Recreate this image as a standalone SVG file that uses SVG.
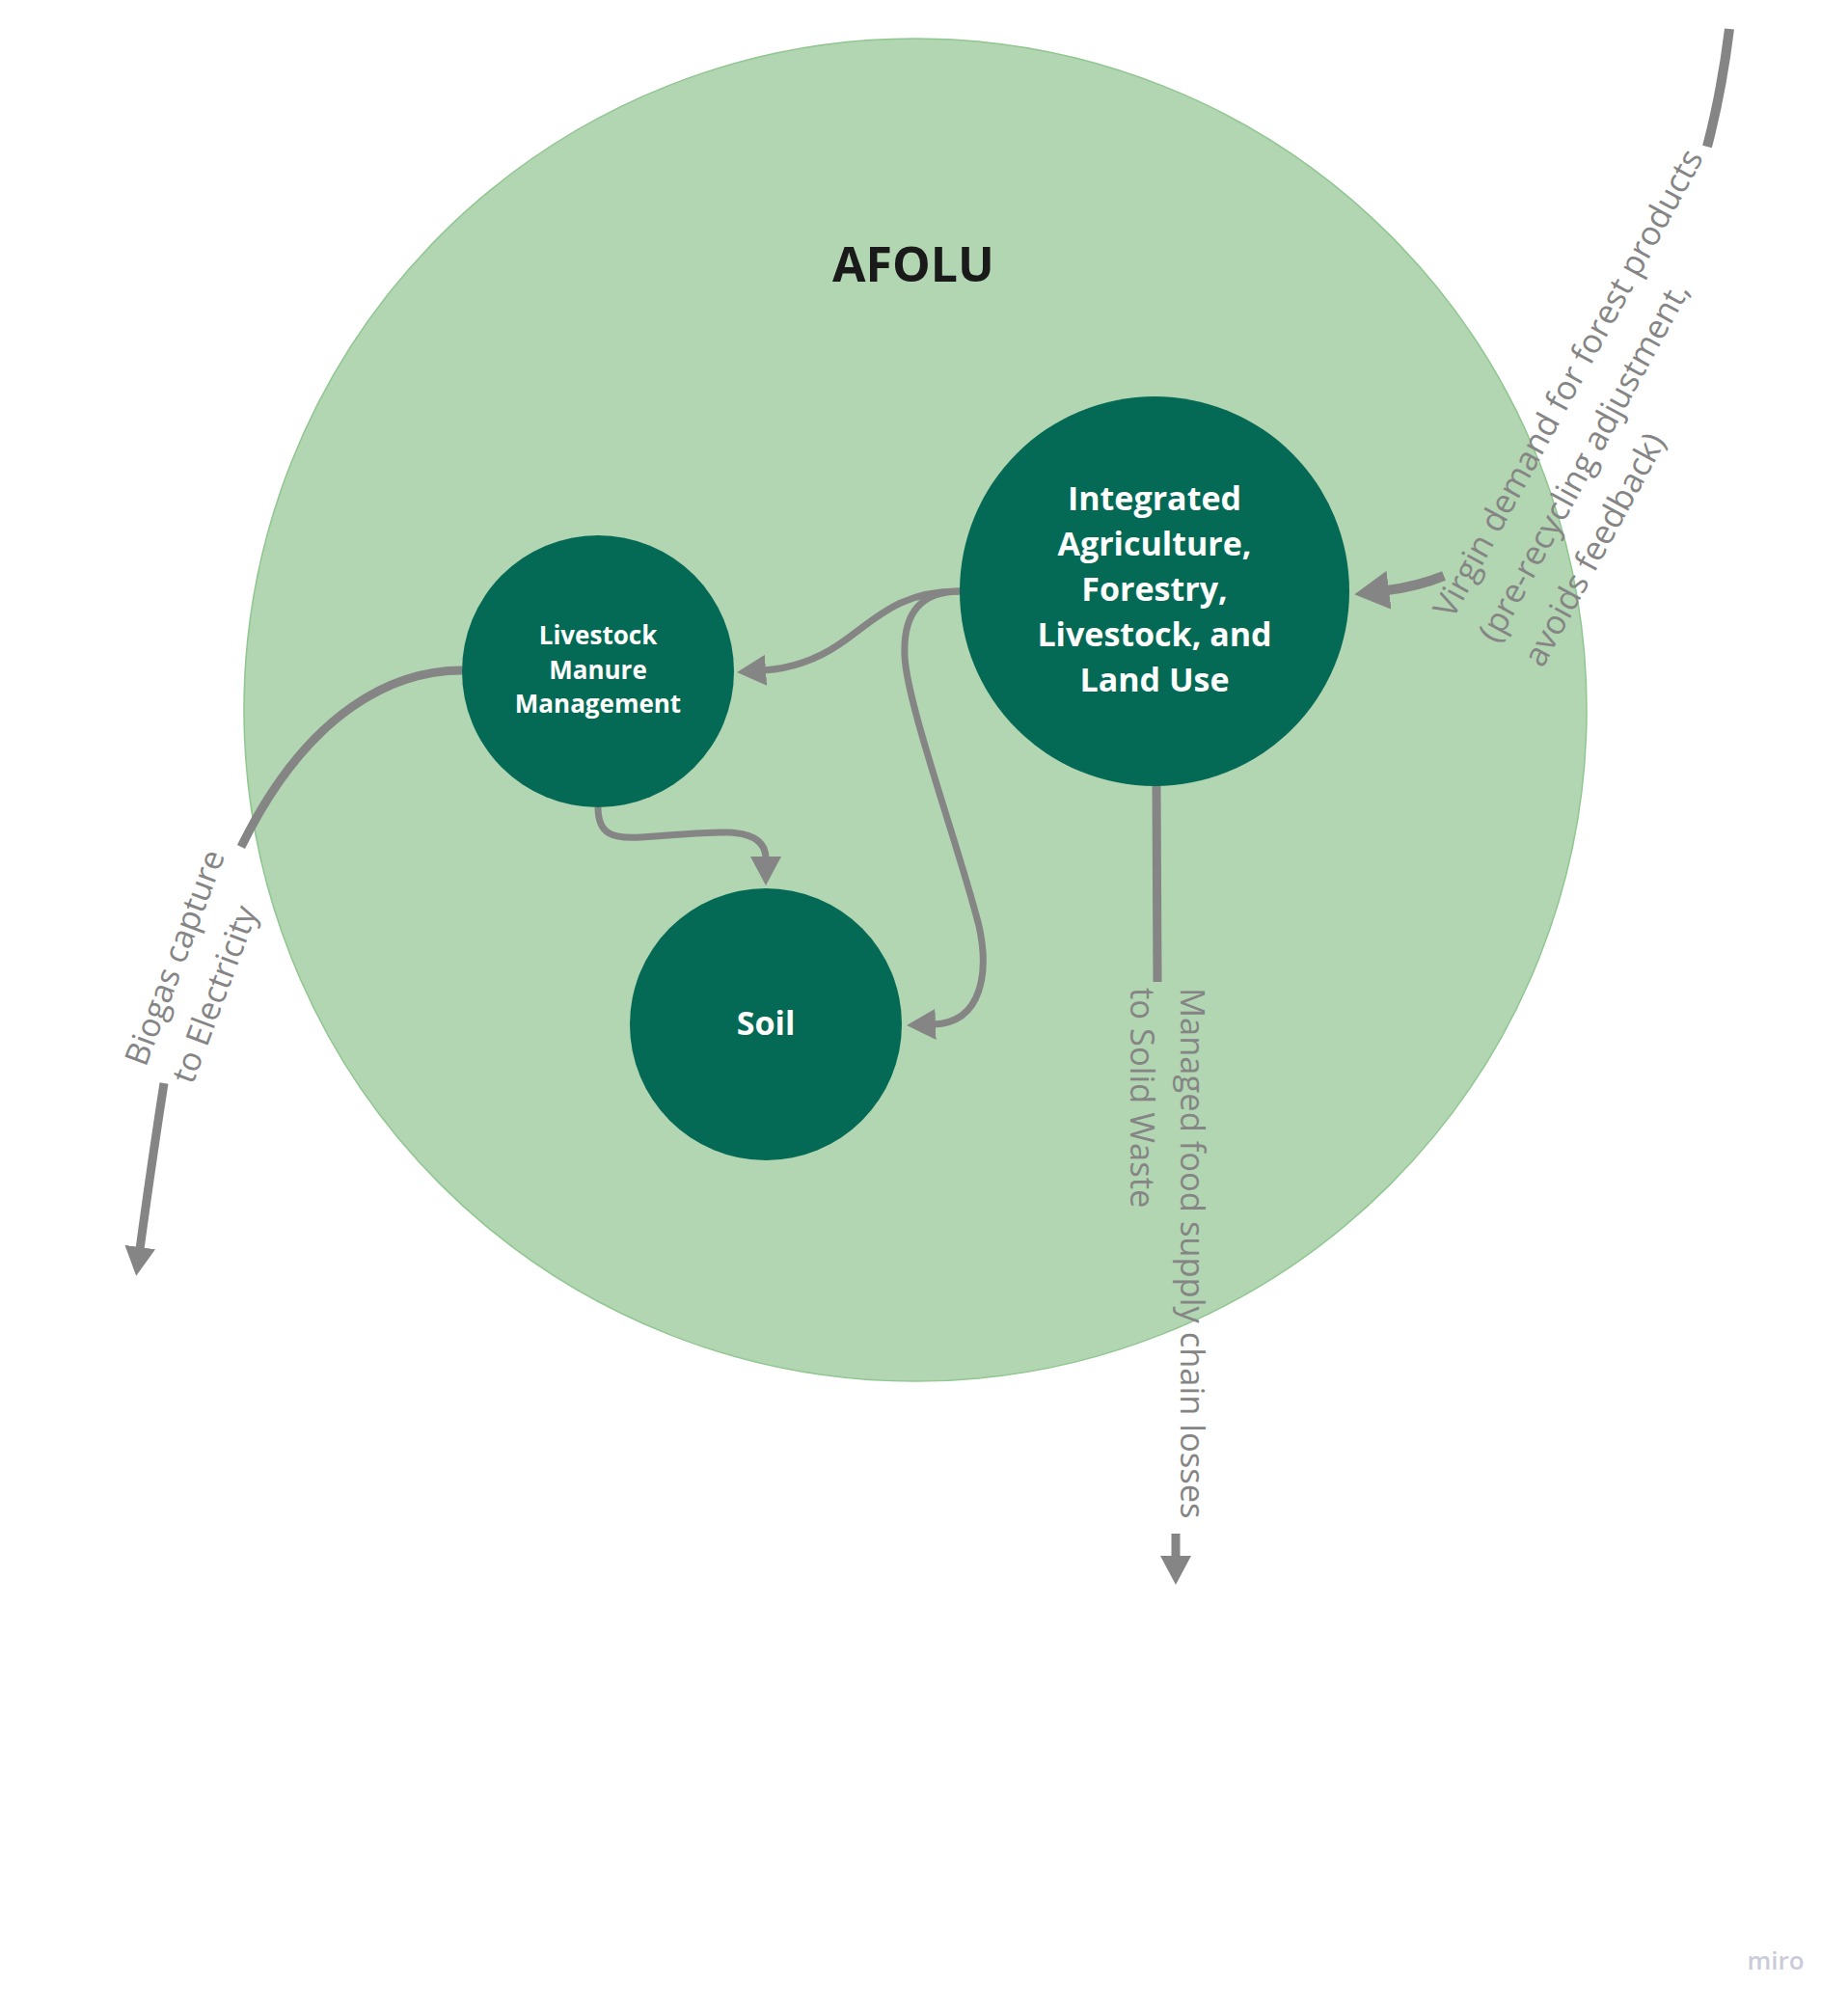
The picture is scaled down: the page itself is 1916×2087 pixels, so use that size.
<svg xmlns="http://www.w3.org/2000/svg" width="1916" height="2087" viewBox="0 0 1916 2087">
<defs>
<style>
.node{fill:#056a55}
.nlabel{font-family:"Open Sans","Noto Sans",sans-serif;font-weight:700;fill:#ffffff;text-anchor:middle}
.elabel{font-family:"Open Sans","Noto Sans",sans-serif;font-weight:400;fill:#858585;font-size:34px}
.conn{fill:none;stroke:#858585;stroke-width:7}
.ext{fill:none;stroke:#858585;stroke-width:9}
</style>
<marker id="ah" markerUnits="userSpaceOnUse" viewBox="0 0 30 32" refX="2" refY="16" markerWidth="30" markerHeight="32" orient="auto"><path d="M0,0 L30,16 L0,32 Z" fill="#858585"/></marker>
<marker id="ahL" markerUnits="userSpaceOnUse" viewBox="0 0 36 40" refX="2" refY="20" markerWidth="36" markerHeight="40" orient="auto"><path d="M0,0 L36,20 L0,40 Z" fill="#858585"/></marker>
</defs>
<rect width="1916" height="2087" fill="#ffffff"/>
<g id="afolu">
<circle cx="949" cy="736" r="696" fill="#b2d5b2" stroke="#90c690" stroke-width="1.5"/>
<text x="947" y="292" font-family="'Open Sans','Noto Sans',sans-serif" font-weight="700" font-size="50" fill="#1a1a1a" text-anchor="middle">AFOLU</text>
</g>
<g id="connectors">
<path class="conn" d="M996,613 C930,612 905,645 870,668 C845,685 820,693 792,695" marker-end="url(#ah)"/>
<path class="conn" d="M996,613 C955,613 936,635 938,680 C940,730 995,880 1015,960 C1025,1005 1020,1060 968,1062" marker-end="url(#ah)"/>
<path class="conn" d="M620,837 C620,865 635,870 665,868 C700,866 730,862 755,863 C780,864 794,872 794,890" marker-end="url(#ah)"/>
<path class="ext" d="M479,695 C410,695 320,735 250,878"/>
<path class="ext" d="M170,1123 Q158,1200 145,1295" marker-end="url(#ah)"/>
<path class="ext" d="M1199,814 L1200,1018"/>
<path class="ext" d="M1219,1590 L1219,1615" marker-end="url(#ah)"/>
<path class="ext" style="stroke-width:10" d="M1793,30 Q1785,95 1770,152"/>
<path class="ext" style="stroke-width:10" d="M1497,597 Q1470,608 1438,612" marker-end="url(#ahL)"/>
</g>
<g id="integrated">
<circle class="node" cx="1197" cy="613" r="202"/>
<text class="nlabel" font-size="34"><tspan x="1197" y="529">Integrated</tspan><tspan x="1197" y="576">Agriculture,</tspan><tspan x="1197" y="623">Forestry,</tspan><tspan x="1197" y="670">Livestock, and</tspan><tspan x="1197" y="717">Land Use</tspan></text>
</g>
<g id="livestock">
<circle class="node" cx="620" cy="696" r="141"/>
<text class="nlabel" font-size="26"><tspan x="620" y="668">Livestock</tspan><tspan x="620" y="704">Manure</tspan><tspan x="620" y="739">Management</tspan></text>
</g>
<g id="soil">
<circle class="node" cx="794" cy="1062" r="141"/>
<text class="nlabel" font-size="34" x="794" y="1073">Soil</text>
</g>
<g id="labels">
<text class="elabel" transform="translate(151,1107) rotate(-69.5)"><tspan x="0" y="0">Biogas capture</tspan><tspan x="0" y="52">to Electricity</tspan></text>
<text class="elabel" style="font-size:34.5px" transform="translate(1224,1024) rotate(90)"><tspan x="0" y="0">Managed food supply chain losses</tspan><tspan x="0" y="52">to Solid Waste</tspan></text>
<text class="elabel" style="font-size:34.5px" transform="translate(1506,643) rotate(-61.5)"><tspan x="0" y="0">Virgin demand for forest products</tspan><tspan x="0" y="53">(pre-recycling adjustment,</tspan><tspan x="0" y="106">avoids feedback)</tspan></text>
</g>
<text x="1841" y="2042" font-family="'Open Sans','Noto Sans',sans-serif" font-weight="600" font-size="26" fill="#cbcbdb" text-anchor="middle">miro</text>
</svg>
